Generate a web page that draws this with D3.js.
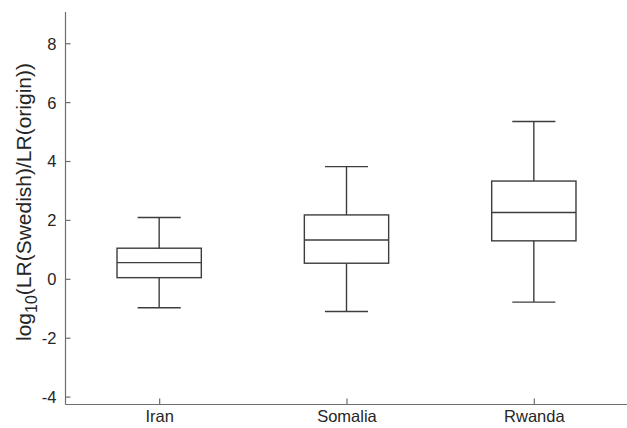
<!DOCTYPE html>
<html>
<head>
<meta charset="utf-8">
<script src="https://cdn.jsdelivr.net/npm/d3@7"></script>
<style>
  body { margin: 0; background: #fff; }
  svg { display: block; font-family: "Liberation Sans", Arial, sans-serif; }
</style>
</head>
<body>
<div id="chart"></div>
<script>
// box statistics
const groups = ["Iran", "Somalia", "Rwanda"];
const whiskerLow = [-0.98, -1.11, -0.79];
const q1 = [0.04, 0.53, 1.29];
const median = [0.55, 1.32, 2.25];
const q3 = [1.04, 2.17, 3.32];
const whiskerHigh = [2.08, 3.81, 5.34];
const yTicks = [-4, -2, 0, 2, 4, 6, 8];

function makeChart() {
	const width = 627;
	const height = 428;
	const stroke = "#3d3d3d";
	const axisColor = "#6e6e6e";

	const data = groups.map((g, i) => ({
		name: g, pos: i + 1,
		lo: whiskerLow[i], q1: q1[i], med: median[i], q3: q3[i], hi: whiskerHigh[i]
	}));

	const x = d3.scaleLinear().domain([0.5, 3.5]).range([65.5, 627.5]);
	const y = d3.scaleLinear().domain([-4.25, 9.06]).range([404, 12]);

	const boxW = 0.45, capW = 0.23;

	const svg = d3.create("svg")
		.attr("width", width)
		.attr("height", height);

	// axes
	const yAxis = svg.append("g")
		.attr("transform", "translate(65.5,0)")
		.call(d3.axisRight(y).tickValues(yTicks).tickSize(5).tickFormat(d => String(d)));
	yAxis.select(".domain").attr("d", `M0,${y.range()[1]}V${y.range()[0] + 0.5}`);
	yAxis.selectAll(".domain, .tick line").attr("stroke", axisColor).attr("stroke-width", 1.2);
	yAxis.selectAll(".tick text")
		.attr("x", -9).attr("text-anchor", "end").attr("dy", "0.36em")
		.attr("fill", "#262626").style("font-size", "16.5px");

	const xAxis = svg.append("g")
		.attr("transform", "translate(0,404.5)")
		.call(d3.axisTop(x).tickValues(data.map(d => d.pos)).tickSize(6).tickFormat((d, i) => groups[i]));
	xAxis.select(".domain").attr("d", `M${x.range()[0]},0H${x.range()[1]}`);
	xAxis.selectAll(".domain, .tick line").attr("stroke", axisColor).attr("stroke-width", 1.2);
	xAxis.selectAll(".tick text")
		.attr("y", 17).attr("dy", "0")
		.attr("fill", "#262626").style("font-size", "16.5px");

	// boxes
	const g = svg.append("g")
		.attr("stroke", stroke)
		.attr("stroke-width", 1.4)
		.attr("fill", "none");

	const box = g.selectAll("g.box")
		.data(data)
		.join("g")
		.attr("class", "box");

	// whiskers
	box.append("line")
		.attr("x1", d => x(d.pos)).attr("x2", d => x(d.pos))
		.attr("y1", d => y(d.q3)).attr("y2", d => y(d.hi));
	box.append("line")
		.attr("x1", d => x(d.pos)).attr("x2", d => x(d.pos))
		.attr("y1", d => y(d.q1)).attr("y2", d => y(d.lo));
	// caps
	box.append("line")
		.attr("x1", d => x(d.pos - capW / 2)).attr("x2", d => x(d.pos + capW / 2))
		.attr("y1", d => y(d.hi)).attr("y2", d => y(d.hi));
	box.append("line")
		.attr("x1", d => x(d.pos - capW / 2)).attr("x2", d => x(d.pos + capW / 2))
		.attr("y1", d => y(d.lo)).attr("y2", d => y(d.lo));
	// box
	box.append("rect")
		.attr("x", d => x(d.pos - boxW / 2))
		.attr("width", d => x(d.pos + boxW / 2) - x(d.pos - boxW / 2))
		.attr("y", d => y(d.q3))
		.attr("height", d => y(d.q1) - y(d.q3));
	// median
	box.append("line")
		.attr("x1", d => x(d.pos - boxW / 2)).attr("x2", d => x(d.pos + boxW / 2))
		.attr("y1", d => y(d.med)).attr("y2", d => y(d.med));

	// y label
	const label = svg.append("text")
		.attr("transform", `translate(31,202) rotate(-90)`)
		.attr("text-anchor", "middle")
		.attr("fill", "#262626")
		.style("font-size", "21px");
	label.append("tspan").text("log");
	label.append("tspan").attr("dy", 6).style("font-size", "16px").text("10");
	label.append("tspan").attr("dy", -6).text("(LR(Swedish)/LR(origin))");

	d3.select("#chart").node().appendChild(svg.node());
}
makeChart();
</script>
</body>
</html>
